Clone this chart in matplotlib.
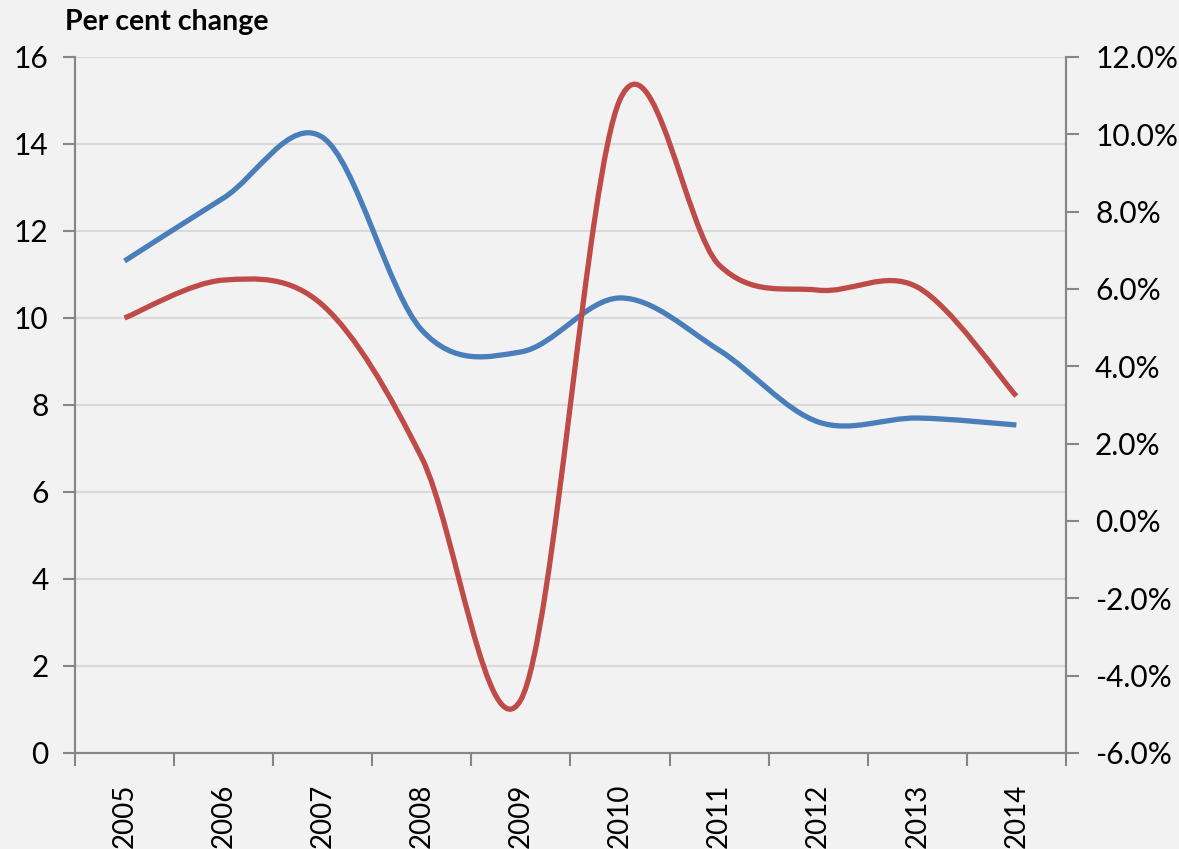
import numpy as np
import matplotlib.pyplot as plt
from matplotlib.path import Path
from matplotlib.patches import PathPatch
from matplotlib.ticker import FuncFormatter

years = ['2005', '2006', '2007', '2008', '2009', '2010', '2011', '2012', '2013', '2014']
# left axis series (blue)
blue_vals = [11.31, 12.76, 14.15, 9.72, 9.22, 10.46, 9.26, 7.61, 7.70, 7.54]
# right axis series (red), per cent
red_vals = [5.25, 6.23, 5.58, 1.63, -4.62, 10.9, 6.62, 5.97, 6.05, 3.23]

BLUE = '#4a7ebb'
RED = '#be4b48'
BG = '#f2f2f2'

plt.rcParams['font.family'] = ['Lato', 'DejaVu Sans']


# Excel style smoothed line: cubic bezier through the points
def smooth_path(xs, ys):
    pts = np.column_stack([xs, ys])
    n = len(pts)
    verts = [pts[0]]
    codes = [Path.MOVETO]
    for i in range(n - 1):
        p0 = pts[max(i - 1, 0)]
        p1 = pts[i]
        p2 = pts[i + 1]
        p3 = pts[min(i + 2, n - 1)]
        c1 = p1 + (p2 - p0) / 6
        c2 = p2 - (p3 - p1) / 6
        verts += [c1, c2, p2]
        codes += [Path.CURVE4] * 3
    return Path(verts, codes)


x = np.arange(len(years)) + 0.5

fig = plt.figure(figsize=(11.79, 8.49), dpi=100, facecolor=BG)
ax = fig.add_axes([0.0636, 0.1131, 0.8405, 0.8198])
ax.set_facecolor(BG)
ax2 = ax.twinx()

ax.set_xlim(0, len(years))
ax.set_ylim(0, 16)
ax2.set_ylim(-6, 12)

ax.set_yticks(np.arange(0, 17, 2))
ax2.set_yticks(np.arange(-6, 13, 2))
ax2.yaxis.set_major_formatter(FuncFormatter(lambda v, p: f'{v:.1f}%'))

ax.yaxis.grid(True, color='#d9d9d9', linewidth=1.5)
ax.set_axisbelow(True)

ax.set_xticks(np.arange(0, len(years) + 1))
ax.set_xticklabels([])
ax.set_xticks(x, minor=True)
ax.set_xticklabels(years, minor=True, rotation=90)
ax.tick_params(axis='x', which='minor', length=0, pad=22, labelsize=20)
ax.tick_params(axis='x', which='major', length=9, width=1.5, color='#868686', direction='out')
ax.tick_params(axis='y', length=9, width=1.5, color='#868686', labelsize=21.5, pad=10)
ax2.tick_params(axis='y', length=9, width=1.5, color='#868686', labelsize=21.5, pad=12)

for a in (ax, ax2):
    a.spines['top'].set_visible(False)
    for s in ('left', 'right', 'bottom'):
        a.spines[s].set_color('#868686')
        a.spines[s].set_linewidth(1.5)

ax.add_patch(PathPatch(smooth_path(x, blue_vals), facecolor='none', edgecolor=BLUE,
                       linewidth=3.8, capstyle='butt', zorder=3))
ax2.add_patch(PathPatch(smooth_path(x, red_vals), facecolor='none', edgecolor=RED,
                        linewidth=3.8, capstyle='butt', zorder=3))

fig.text(0.055, 0.974, 'Per cent change', fontsize=20.5, fontweight='bold', va='center', ha='left')

fig.savefig('out.png', dpi=100, facecolor=BG)
